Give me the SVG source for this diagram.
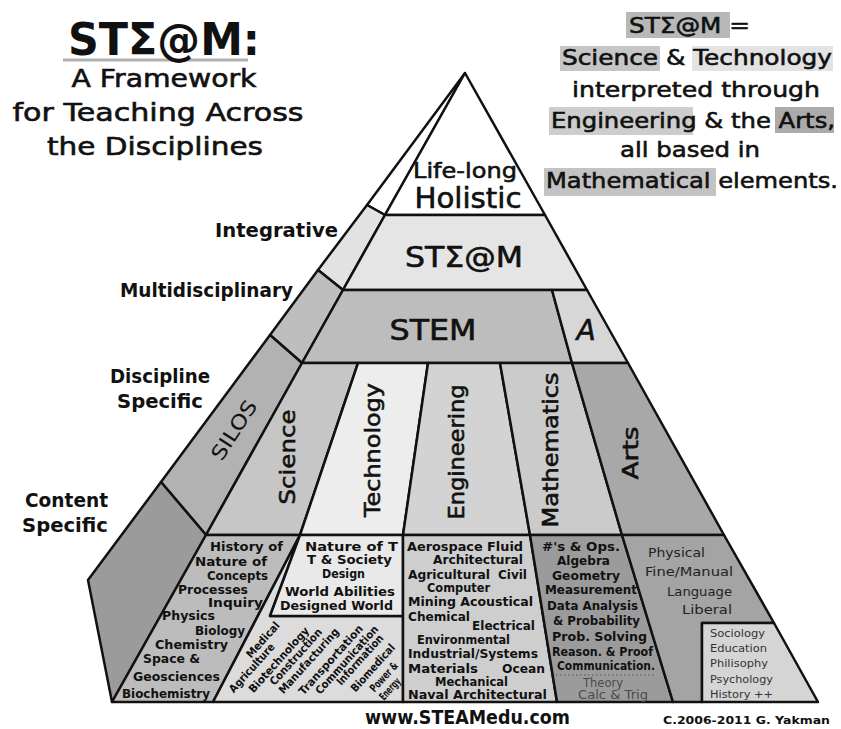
<svg xmlns="http://www.w3.org/2000/svg" width="841" height="729" viewBox="0 0 841 729">
<style>
text{font-family:"DejaVu Sans","Liberation Sans",sans-serif;fill:#111}
.b{font-weight:bold}
.th{stroke:#111;stroke-width:0.6}
.p{stroke:#111;stroke-width:2.5;stroke-linejoin:round}
.title{font-size:44px;font-weight:bold}
.sub{font-size:25px}
.rt{font-size:22px}
.lvl{font-size:19px;font-weight:bold}
.band{font-size:28px}
.col{font-size:22px}
.c{font-size:12.5px;font-weight:bold}
.cl{font-size:12.5px}
.s{font-size:11px}
.r{font-size:11px;font-weight:bold}
</style>
<rect width="841" height="729" fill="#fff"/>

<g id="title">
<line x1="63" y1="60" x2="248" y2="60" stroke="#b0b0b0" stroke-width="3"/>
<text class="title" x="164" y="55" text-anchor="middle" textLength="192" lengthAdjust="spacingAndGlyphs">STΣ@M:</text>
<text class="sub th" x="164" y="87" text-anchor="middle" textLength="185" lengthAdjust="spacingAndGlyphs">A Framework</text>
<text class="sub th" x="158" y="121" text-anchor="middle" textLength="291" lengthAdjust="spacingAndGlyphs">for Teaching Across</text>
<text class="sub th" x="155" y="155" text-anchor="middle" textLength="216" lengthAdjust="spacingAndGlyphs">the Disciplines</text>
</g>

<g id="definition">
<rect x="626" y="12" width="104" height="26" fill="#b8b8b8"/>
<rect x="560" y="46" width="100" height="25" fill="#c6c6c6"/>
<rect x="692" y="46" width="141" height="25" fill="#e3e3e3"/>
<rect x="549" y="107" width="144" height="28" fill="#cdcdcd"/>
<rect x="775" y="107" width="59" height="26" fill="#ababab"/>
<rect x="544" y="168" width="172" height="28" fill="#c3c3c3"/>
<text class="rt th" x="629" y="33" textLength="121" lengthAdjust="spacingAndGlyphs">STΣ@M =</text>
<text class="rt th" x="562" y="65" textLength="270" lengthAdjust="spacingAndGlyphs">Science &amp; Technology</text>
<text class="rt th" x="572" y="97" textLength="248" lengthAdjust="spacingAndGlyphs">interpreted through</text>
<text class="rt th" x="551" y="128" textLength="284" lengthAdjust="spacingAndGlyphs">Engineering &amp; the Arts,</text>
<text class="rt th" x="620" y="157" textLength="140" lengthAdjust="spacingAndGlyphs">all based in</text>
<text class="rt th" x="546" y="188" textLength="292" lengthAdjust="spacingAndGlyphs">Mathematical elements.</text>
</g>

<g id="left-face">
<polygon class="p" points="465,73 367,205 385,215" fill="#fff"/>
<polygon class="p" points="367,205 318,270 343,290 385,215" fill="#e2e2e2"/>
<polygon class="p" points="318,270 270,335 302,363 343,290" fill="#bebebe"/>
<polygon class="p" points="270,335 161,482 206,535 302,363" fill="#b2b2b2"/>
<polygon class="p" points="161,482 88,580 112,702 206,535" fill="#9b9b9b"/>
<text x="0" y="0" font-size="20" transform="translate(234,430) rotate(-57)" text-anchor="middle" dominant-baseline="central" textLength="67" lengthAdjust="spacingAndGlyphs">SILOS</text>
</g>

<g id="levels">
<text class="lvl" x="215" y="237" textLength="123" lengthAdjust="spacingAndGlyphs">Integrative</text>
<text class="lvl" x="120" y="297" textLength="173" lengthAdjust="spacingAndGlyphs">Multidisciplinary</text>
<text class="lvl" x="110" y="383" textLength="100" lengthAdjust="spacingAndGlyphs">Discipline</text>
<text class="lvl" x="117" y="408" textLength="86" lengthAdjust="spacingAndGlyphs">Specific</text>
<text class="lvl" x="25" y="507" textLength="83" lengthAdjust="spacingAndGlyphs">Content</text>
<text class="lvl" x="22" y="532" textLength="86" lengthAdjust="spacingAndGlyphs">Specific</text>
</g>

<g id="holistic">
<polygon class="p" points="465,73 385,215 545,215" fill="#fff"/>
<text class="th" x="465" y="178" font-size="22" text-anchor="middle" textLength="104" lengthAdjust="spacingAndGlyphs">Life-long</text>
<text class="band th" x="468" y="208" text-anchor="middle" textLength="107" lengthAdjust="spacingAndGlyphs">Holistic</text>
</g>

<g id="steam">
<polygon class="p" points="385,215 343,290 587,290 545,215" fill="#e5e5e5"/>
<text class="band th" x="464" y="267" text-anchor="middle" textLength="118" lengthAdjust="spacingAndGlyphs">STΣ@M</text>
</g>

<g id="stem">
<polygon class="p" points="343,290 302,363 572,363 552,290" fill="#bdbdbd"/>
<text class="band th" x="433" y="340" text-anchor="middle" textLength="87" lengthAdjust="spacingAndGlyphs">STEM</text>
</g>

<g id="a">
<polygon class="p" points="552,290 572,363 628,363 587,290" fill="#d7d7d7"/>
<text class="band th" x="586" y="340" text-anchor="middle" font-style="italic">A</text>
</g>

<g id="science">
<polygon class="p" points="302,363 206,535 300,535 358,363" fill="#c6c6c6"/>
<text class="col th" x="0" y="0" transform="translate(287,457) rotate(-90)" text-anchor="middle" dominant-baseline="central" textLength="95" lengthAdjust="spacingAndGlyphs">Science</text>
</g>

<g id="technology">
<polygon class="p" points="358,363 300,535 403,535 428,363" fill="#ededed"/>
<text class="col th" x="0" y="0" transform="translate(372,450) rotate(-90)" text-anchor="middle" dominant-baseline="central" textLength="134" lengthAdjust="spacingAndGlyphs">Technology</text>
</g>

<g id="engineering">
<polygon class="p" points="428,363 403,535 530,535 500,363" fill="#d3d3d3"/>
<text class="col th" x="0" y="0" transform="translate(456,452) rotate(-90)" text-anchor="middle" dominant-baseline="central" textLength="135" lengthAdjust="spacingAndGlyphs">Engineering</text>
</g>

<g id="mathematics">
<polygon class="p" points="500,363 530,535 622,535 572,363" fill="#cbcbcb"/>
<text class="col th" x="0" y="0" transform="translate(550,450) rotate(-90)" text-anchor="middle" dominant-baseline="central" textLength="155" lengthAdjust="spacingAndGlyphs">Mathematics</text>
</g>

<g id="arts">
<polygon class="p" points="572,363 622,535 724,535 628,363" fill="#a8a8a8"/>
<text class="col th" x="0" y="0" transform="translate(630,453) rotate(-90)" text-anchor="middle" dominant-baseline="central" textLength="53" lengthAdjust="spacingAndGlyphs">Arts</text>
</g>

<g id="science-content">
<polygon class="p" points="206,535 112,702 213,702 300,535" fill="#bcbcbc"/>
<text class="c" x="210" y="551" textLength="73" lengthAdjust="spacingAndGlyphs">History of</text>
<text class="c" x="195" y="566" textLength="72" lengthAdjust="spacingAndGlyphs">Nature of</text>
<text class="c" x="207" y="580" textLength="61" lengthAdjust="spacingAndGlyphs">Concepts</text>
<text class="c" x="178" y="594" textLength="70" lengthAdjust="spacingAndGlyphs">Processes</text>
<text class="c" x="208" y="607" textLength="55" lengthAdjust="spacingAndGlyphs">Inquiry</text>
<text class="c" x="162" y="620" textLength="53" lengthAdjust="spacingAndGlyphs">Physics</text>
<text class="c" x="195" y="635" textLength="50" lengthAdjust="spacingAndGlyphs">Biology</text>
<text class="c" x="155" y="649" textLength="73" lengthAdjust="spacingAndGlyphs">Chemistry</text>
<text class="c" x="143" y="663" textLength="57" lengthAdjust="spacingAndGlyphs">Space &amp;</text>
<text class="c" x="133" y="681" textLength="87" lengthAdjust="spacingAndGlyphs">Geosciences</text>
<text class="c" x="122" y="698" textLength="88" lengthAdjust="spacingAndGlyphs">Biochemistry</text>
</g>

<g id="technology-content">
<polygon class="p" points="300,535 213,702 403,702 403,616 270,616" fill="#dcdcdc"/>
<polygon class="p" points="300,535 270,616 403,616 403,535" fill="#e9e9e9"/>
<text class="c" x="305" y="551" textLength="93" lengthAdjust="spacingAndGlyphs">Nature of T</text>
<text class="c" x="307" y="564" textLength="85" lengthAdjust="spacingAndGlyphs">T &amp; Society</text>
<text class="c" x="322" y="578" textLength="43" lengthAdjust="spacingAndGlyphs">Design</text>
<text class="c" x="285" y="596" textLength="110" lengthAdjust="spacingAndGlyphs">World Abilities</text>
<text class="c" x="280" y="610" textLength="113" lengthAdjust="spacingAndGlyphs">Designed World</text>
<g text-anchor="middle" dominant-baseline="central">
<text class="r" transform="translate(263,640) rotate(-48)" textLength="44" lengthAdjust="spacingAndGlyphs">Medical</text>
<text class="r" transform="translate(252,668) rotate(-48)" textLength="62" lengthAdjust="spacingAndGlyphs">Agriculture</text>
<text class="r" transform="translate(279,660) rotate(-48)" textLength="84" lengthAdjust="spacingAndGlyphs">Biotechnology</text>
<text class="r" transform="translate(296,657) rotate(-48)" textLength="72" lengthAdjust="spacingAndGlyphs">Construction</text>
<text class="r" transform="translate(309,661) rotate(-48)" textLength="84" lengthAdjust="spacingAndGlyphs">Manufacturing</text>
<text class="r" transform="translate(331,660) rotate(-48)" textLength="90" lengthAdjust="spacingAndGlyphs">Transportation</text>
<text class="r" transform="translate(347,660) rotate(-48)" textLength="88" lengthAdjust="spacingAndGlyphs">Communication</text>
<text class="r" transform="translate(360,660) rotate(-48)" textLength="64" lengthAdjust="spacingAndGlyphs">Information</text>
<text class="r" transform="translate(373,668) rotate(-48)" textLength="60" lengthAdjust="spacingAndGlyphs">Biomedical</text>
<text class="r" transform="translate(384,677) rotate(-48)" textLength="36" lengthAdjust="spacingAndGlyphs">Power &amp;</text>
<text class="r" transform="translate(390,689) rotate(-48)" textLength="26" lengthAdjust="spacingAndGlyphs">Energy</text>
</g>
</g>

<g id="engineering-content">
<polygon class="p" points="403,535 403,702 557,702 530,535" fill="#cecece"/>
<text class="c" x="407" y="551" textLength="116" lengthAdjust="spacingAndGlyphs">Aerospace Fluid</text>
<text class="c" x="433" y="564" textLength="90" lengthAdjust="spacingAndGlyphs">Architectural</text>
<text class="c" x="408" y="579" textLength="82" lengthAdjust="spacingAndGlyphs">Agricultural</text>
<text class="c" x="498" y="579" textLength="29" lengthAdjust="spacingAndGlyphs">Civil</text>
<text class="c" x="427" y="592" textLength="63" lengthAdjust="spacingAndGlyphs">Computer</text>
<text class="c" x="408" y="606" textLength="125" lengthAdjust="spacingAndGlyphs">Mining Acoustical</text>
<text class="c" x="408" y="621" textLength="62" lengthAdjust="spacingAndGlyphs">Chemical</text>
<text class="c" x="472" y="630" textLength="63" lengthAdjust="spacingAndGlyphs">Electrical</text>
<text class="c" x="417" y="644" textLength="93" lengthAdjust="spacingAndGlyphs">Environmental</text>
<text class="c" x="408" y="658" textLength="130" lengthAdjust="spacingAndGlyphs">Industrial/Systems</text>
<text class="c" x="408" y="673" textLength="70" lengthAdjust="spacingAndGlyphs">Materials</text>
<text class="c" x="502" y="673" textLength="43" lengthAdjust="spacingAndGlyphs">Ocean</text>
<text class="c" x="435" y="686" textLength="73" lengthAdjust="spacingAndGlyphs">Mechanical</text>
<text class="c" x="408" y="699" textLength="139" lengthAdjust="spacingAndGlyphs">Naval Architectural</text>
</g>

<g id="mathematics-content">
<polygon class="p" points="530,535 557,702 673,702 622,535" fill="#9b9b9b"/>
<text class="c" x="542" y="551" textLength="78" lengthAdjust="spacingAndGlyphs">#'s &amp; Ops.</text>
<text class="c" x="557" y="565" textLength="53" lengthAdjust="spacingAndGlyphs">Algebra</text>
<text class="c" x="552" y="580" textLength="68" lengthAdjust="spacingAndGlyphs">Geometry</text>
<text class="c" x="545" y="594" textLength="92" lengthAdjust="spacingAndGlyphs">Measurement</text>
<text class="c" x="547" y="610" textLength="91" lengthAdjust="spacingAndGlyphs">Data Analysis</text>
<text class="c" x="553" y="625" textLength="87" lengthAdjust="spacingAndGlyphs">&amp; Probability</text>
<text class="c" x="552" y="641" textLength="95" lengthAdjust="spacingAndGlyphs">Prob. Solving</text>
<text class="c" x="552" y="656" textLength="101" lengthAdjust="spacingAndGlyphs">Reason. &amp; Proof</text>
<text class="c" x="557" y="670" textLength="98" lengthAdjust="spacingAndGlyphs">Communication.</text>
<line x1="556" y1="675" x2="655" y2="675" stroke="#555" stroke-width="1" stroke-dasharray="1.5 2.5"/>
<text class="cl" x="583" y="687" style="fill:#4a4a4a" textLength="40" lengthAdjust="spacingAndGlyphs">Theory</text>
<text class="cl" x="578" y="699" style="fill:#4a4a4a" textLength="70" lengthAdjust="spacingAndGlyphs">Calc &amp; Trig</text>
</g>

<g id="arts-content">
<polygon class="p" points="622,535 673,702 702,702 702,623 774,623 724,535" fill="#a4a4a4"/>
<text class="cl" x="648" y="557" style="fill:#222" textLength="57" lengthAdjust="spacingAndGlyphs">Physical</text>
<text class="cl" x="645" y="576" style="fill:#222" textLength="88" lengthAdjust="spacingAndGlyphs">Fine/Manual</text>
<text class="cl" x="667" y="596" style="fill:#222" textLength="65" lengthAdjust="spacingAndGlyphs">Language</text>
<text class="cl" x="682" y="614" style="fill:#222" textLength="50" lengthAdjust="spacingAndGlyphs">Liberal</text>
</g>

<g id="social-content">
<polygon class="p" points="702,623 702,702 818,702 774,623" fill="#d5d5d5"/>
<text class="s" x="710" y="637" style="fill:#333" textLength="55" lengthAdjust="spacingAndGlyphs">Sociology</text>
<text class="s" x="710" y="652" style="fill:#333" textLength="57" lengthAdjust="spacingAndGlyphs">Education</text>
<text class="s" x="710" y="667" style="fill:#333" textLength="58" lengthAdjust="spacingAndGlyphs">Philisophy</text>
<text class="s" x="710" y="683" style="fill:#333" textLength="63" lengthAdjust="spacingAndGlyphs">Psychology</text>
<text class="s" x="710" y="698" style="fill:#333" textLength="63" lengthAdjust="spacingAndGlyphs">History ++</text>
</g>

<g id="connectors"></g>

<g id="footer">
<text class="b" x="365" y="724" font-size="19" textLength="205" lengthAdjust="spacingAndGlyphs">www.STEAMedu.com</text>
<text class="b" x="663" y="724" font-size="11" textLength="167" lengthAdjust="spacingAndGlyphs">C.2006-2011 G. Yakman</text>
</g>
</svg>
